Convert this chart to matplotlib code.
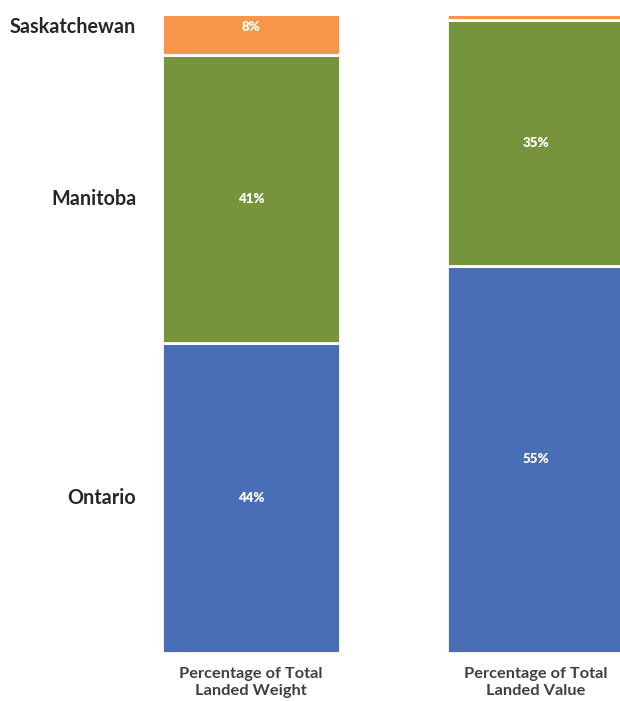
import numpy as np
import matplotlib.pyplot as plt

plt.rcParams['font.family'] = ['Lato', 'DejaVu Sans']

measures = ["Percentage of Total\nLanded Weight", "Percentage of Total\nLanded Value"]
provinces = ["Ontario", "Manitoba", "Saskatchewan"]
weight_pct = [44, 41, 8]
value_pct = [55, 35, 10]
colors = ["#4A6EB5", "#77933C", "#F79646"]

fig = plt.figure(figsize=(6.2, 7.01), dpi=100)
ax = fig.add_axes([0, 0.0685, 1, 0.9087])

x = np.arange(len(measures))
width = 0.625
top = 90.5
data = np.array([weight_pct, value_pct]).T  # rows = provinces
bottom = np.zeros(len(measures))
for i, prov in enumerate(provinces):
    ax.bar(x, data[i], width, bottom=bottom, color=colors[i],
           edgecolor="white", linewidth=2)
    for j in range(len(measures)):
        yc = bottom[j] + data[i][j] / 2
        if yc < top:  # label sits off the cropped top otherwise
            ax.text(x[j], yc, f"{data[i][j]}%", ha="center", va="center",
                    color="white", fontsize=9.5, fontweight="heavy")
    # province names next to the first bar
    ax.text(x[0] - width / 2 - 0.09, bottom[0] + data[i][0] / 2, prov,
            ha="right", va="center", fontsize=14.2, fontweight="bold",
            color="#262626")
    bottom += data[i]

ax.set_xlim(-251 / 285, 369 / 285)
ax.set_ylim(0, top)
ax.set_xticks(x)
ax.set_xticklabels(measures, fontsize=11.8, fontweight="bold", color="#404040",
                   linespacing=1.25)
ax.tick_params(axis="x", length=0, pad=10)
ax.set_yticks([])
for s in ax.spines.values():
    s.set_visible(False)

fig.savefig("out.png", dpi=100)
